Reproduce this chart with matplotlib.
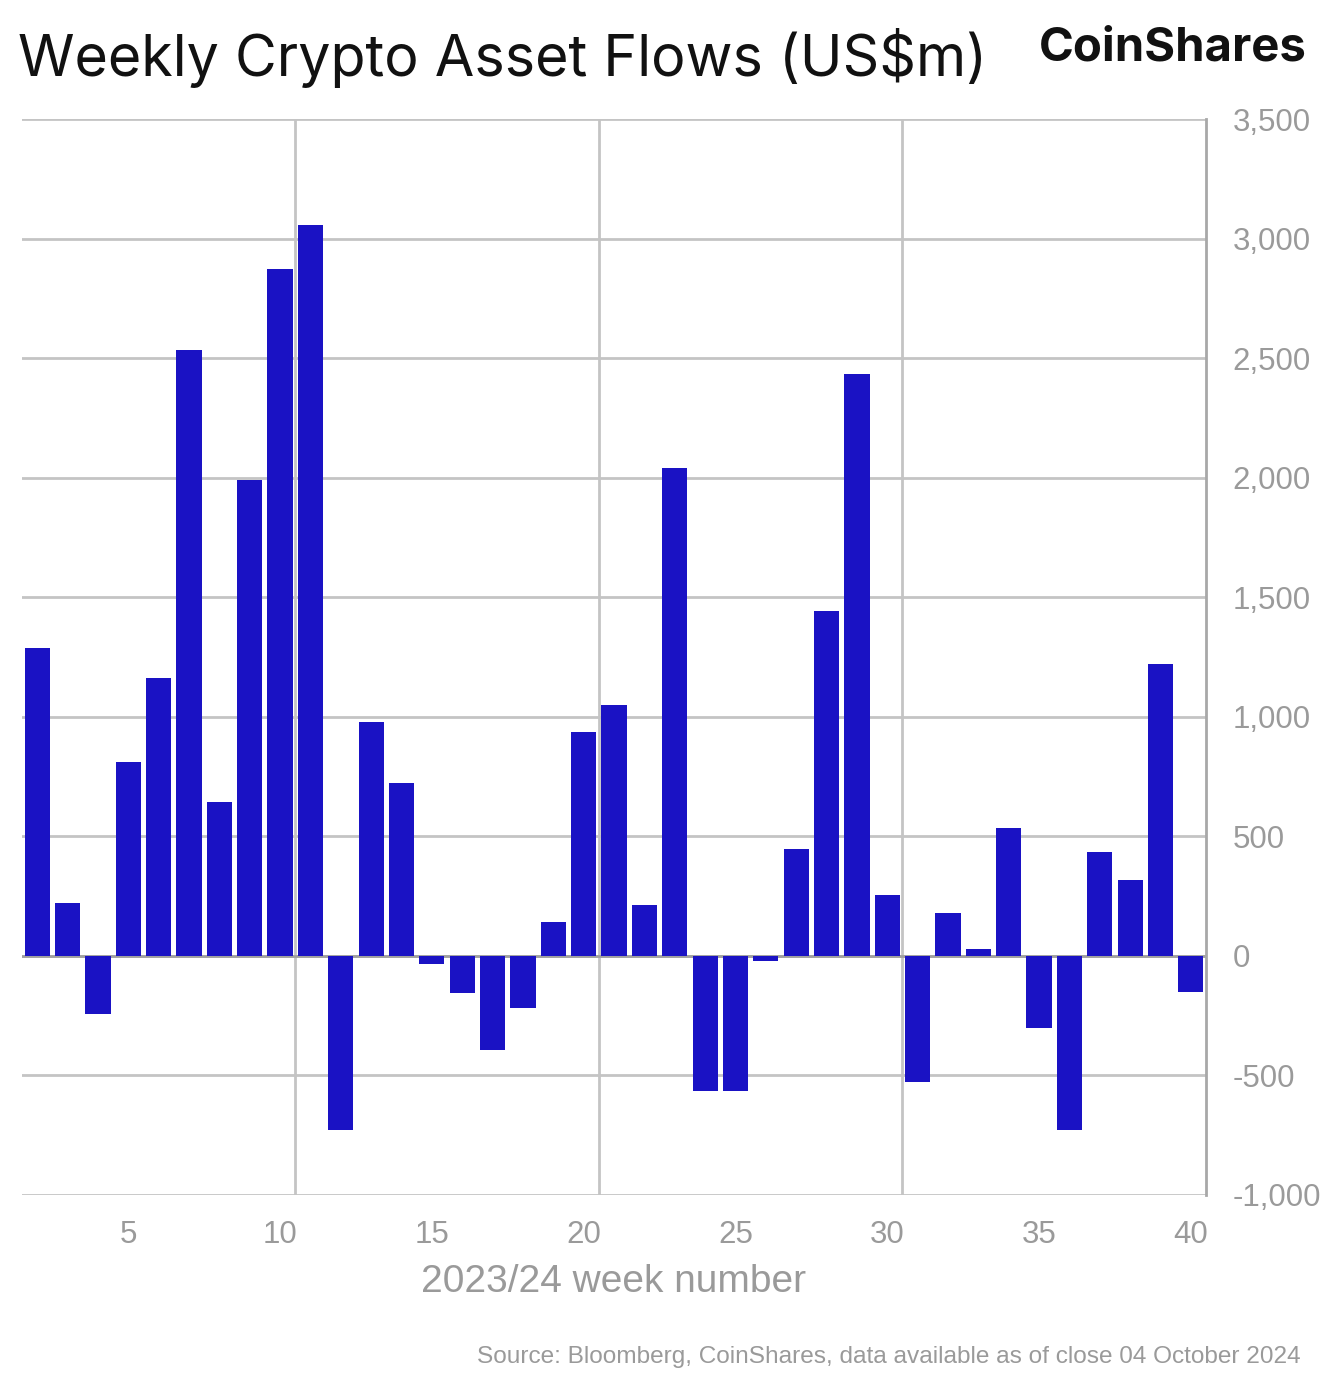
import numpy as np
import matplotlib
matplotlib.use("Agg")
import matplotlib.pyplot as plt

# weekly flows, US$m (weeks 2..40)
weeks = list(range(2, 41))
flows = [1288, 222, -243, 811, 1162, 2533, 644, 1990, 2872, 3056,
         -727, 978, 723, -33, -155, -393, -217, 142, 936, 1049,
         213, 2040, -564, -564, -21, 447, 1442, 2433, 255, -527,
         180, 29, 535, -301, -727, 435, 318, 1221, -150]

x_ticks = [5, 10, 15, 20, 25, 30, 35, 40]
y_ticks = [-1000, -500, 0, 500, 1000, 1500, 2000, 2500, 3000, 3500]

bar_col = '#1a12c4'
grid_col = '#c4c4c4'
txt_col = '#9a9a9a'

plt.rcParams['font.family'] = ['Liberation Sans', 'DejaVu Sans']

fig = plt.figure(figsize=(13.42, 13.94), dpi=100)
ax = fig.add_axes([0.0164, 0.1428, 0.8823, 0.7718])

ax.bar(weeks, flows, width=0.83, color=bar_col, zorder=3)

ax.set_xlim(1.5, 40.5)
ax.set_ylim(-1000, 3500)

# gridlines
ax.set_yticks(y_ticks)
ax.set_yticklabels([f'{v:,}' for v in y_ticks])
ax.set_xticks(x_ticks)
ax.set_xticks([10.5, 20.5, 30.5], minor=True)
ax.yaxis.grid(True, color=grid_col, linewidth=2, zorder=0)
ax.xaxis.grid(True, which='minor', color=grid_col, linewidth=2, zorder=0)
ax.xaxis.grid(False, which='major')
ax.axhline(0, color='#a0a0a0', linewidth=2, zorder=2)

ax.yaxis.tick_right()
ax.tick_params(axis='y', length=0, pad=19, labelsize=22.5, labelcolor=txt_col)
ax.tick_params(axis='x', which='both', length=0, pad=18, labelsize=22.5, labelcolor=txt_col)
for lab in ax.get_yticklabels():
    lab.set_horizontalalignment('left')

for s in ['top', 'left', 'bottom']:
    ax.spines[s].set_visible(False)
ax.spines['right'].set_color('#a8a8a8')
ax.spines['right'].set_linewidth(2)

ax.set_xlabel('2023/24 week number', fontsize=28, color=txt_col, labelpad=10)

fig.text(0.0135, 0.9455, 'Weekly Crypto Asset Flows (US$m)', fontsize=41.3,
         family=['Inter', 'DejaVu Sans'], color='#111111', va='baseline')
fig.text(0.974, 0.9565, 'CoinShares', fontsize=34, fontweight='bold',
         family=['Inter', 'DejaVu Sans'], color='#111111', ha='right', va='baseline')
fig.text(0.969, 0.022, 'Source: Bloomberg, CoinShares, data available as of close 04 October 2024',
         fontsize=17.6, color=txt_col, ha='right', va='baseline')

fig.savefig('out.png', dpi=100, facecolor='white')
